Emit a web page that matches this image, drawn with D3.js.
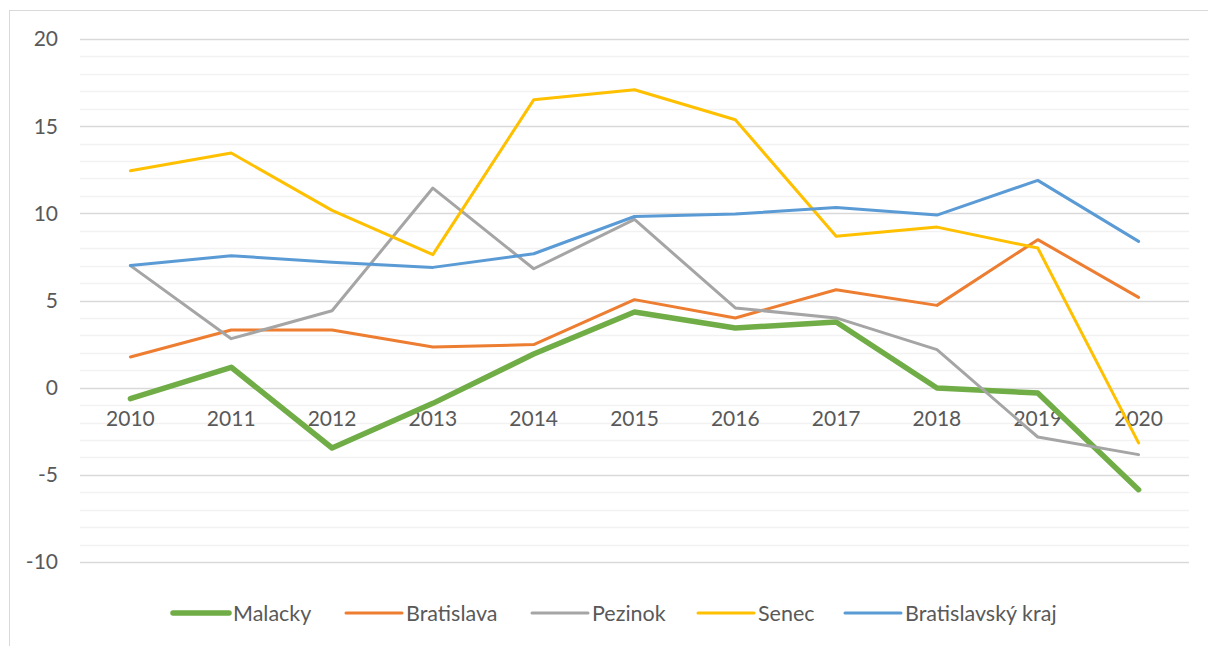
<!DOCTYPE html>
<html>
<head>
<meta charset="utf-8">
<script src="https://cdn.jsdelivr.net/npm/d3@7"></script>
<style>
  body { margin: 0; background: #fff; }
  svg { display: block; font-family: Lato, "Open Sans", sans-serif; }
  .tick-label { fill: #595959; font-size: 21px; }
  .legend-label { fill: #595959; font-size: 21.5px; }
</style>
</head>
<body>
<svg id="chart" width="1208" height="646"></svg>
<script>
// ----------

const YEARS = ["2010", "2011", "2012", "2013", "2014", "2015", "2016", "2017", "2018", "2019", "2020"];

const MALACKY = [-0.63, 1.17, -3.46, -0.9, 1.93, 4.34, 3.42, 3.77, -0.02, -0.31, -5.85];
const BRATISLAVA = [1.76, 3.31, 3.31, 2.33, 2.47, 5.05, 4.0, 5.62, 4.72, 8.49, 5.18];
const PEZINOK = [7.0, 2.81, 4.41, 11.45, 6.82, 9.65, 4.57, 4.0, 2.18, -2.83, -3.84];
const SENEC = [12.44, 13.46, 10.17, 7.63, 16.51, 17.09, 15.37, 8.68, 9.21, 8.01, -3.17];
const BRATISLAVSKY_KRAJ = [7.01, 7.57, 7.2, 6.9, 7.68, 9.82, 9.96, 10.34, 9.9, 11.89, 8.39];

const SERIES_NAMES = ["Malacky", "Bratislava", "Pezinok", "Senec", "Bratislavský kraj"];
const SERIES_VALUES = [MALACKY, BRATISLAVA, PEZINOK, SENEC, BRATISLAVSKY_KRAJ];
const SERIES_COLORS = ["#70AD47", "#ED7D31", "#A5A5A5", "#FFC000", "#5B9BD5"];
const SERIES_WIDTHS = [5.5, 3, 3, 3, 3];

const Y_TICKS = [20, 15, 10, 5, 0, -5, -10];

const LEGEND_X = [173, 346, 532, 698, 845];

// ----------

function drawChart() {
  let svg = d3.select("#chart"),
    left = 80,
    right = 1189,
    top = 39,
    bottom = 562;

  // chart frame
  svg.append("rect")
    .attr("x", 9.5)
    .attr("y", 10.5)
    .attr("width", 1300)
    .attr("height", 700)
    .attr("fill", "none")
    .attr("stroke", "#D9D9D9")
    .attr("stroke-width", 1);

  let x = d3.scaleBand().domain(YEARS).range([left, right]);
  let y = d3.scaleLinear().domain([-10, 20]).range([bottom, top]);

  // minor gridlines every 1, major every 5
  let minor = d3.range(-10, 21, 1).filter(function (v) { return v % 5 !== 0; });
  svg.append("g")
    .selectAll("line")
    .data(minor)
    .enter()
    .append("line")
    .attr("x1", left)
    .attr("x2", right)
    .attr("y1", function (d) { return Math.round(y(d)) + 0.5; })
    .attr("y2", function (d) { return Math.round(y(d)) + 0.5; })
    .attr("stroke", "#F2F2F2")
    .attr("stroke-width", 1.3);

  svg.append("g")
    .selectAll("line")
    .data(Y_TICKS)
    .enter()
    .append("line")
    .attr("x1", left)
    .attr("x2", right)
    .attr("y1", function (d) { return Math.round(y(d)) + 0.5; })
    .attr("y2", function (d) { return Math.round(y(d)) + 0.5; })
    .attr("stroke", "#D9D9D9")
    .attr("stroke-width", 1.3);

  // y labels
  svg.append("g")
    .selectAll("text")
    .data(Y_TICKS)
    .enter()
    .append("text")
    .attr("class", "tick-label")
    .attr("x", 58)
    .attr("y", function (d) { return y(d); })
    .attr("dy", "0.35em")
    .attr("text-anchor", "end")
    .text(function (d) { return d; });

  // x labels sit right under the zero line
  svg.append("g")
    .selectAll("text")
    .data(YEARS)
    .enter()
    .append("text")
    .attr("class", "tick-label")
    .attr("x", function (d) { return x(d) + x.bandwidth() / 2; })
    .attr("y", y(0) + 38)
    .attr("text-anchor", "middle")
    .text(function (d) { return d; });

  let line = d3.line()
    .x(function (d, i) { return x(YEARS[i]) + x.bandwidth() / 2; })
    .y(function (d) { return y(d); });

  svg.append("g")
    .selectAll("path")
    .data(SERIES_VALUES)
    .enter()
    .append("path")
    .attr("d", line)
    .attr("fill", "none")
    .attr("stroke", function (d, i) { return SERIES_COLORS[i]; })
    .attr("stroke-width", function (d, i) { return SERIES_WIDTHS[i]; })
    .attr("stroke-linejoin", "round")
    .attr("stroke-linecap", "round");

  // legend
  let legendY = 613;
  let legend = svg.append("g")
    .selectAll("g")
    .data(SERIES_NAMES)
    .enter()
    .append("g")
    .attr("transform", function (d, i) { return "translate(" + LEGEND_X[i] + "," + legendY + ")"; });

  legend.append("line")
    .attr("x1", 0)
    .attr("x2", 56)
    .attr("stroke", function (d, i) { return SERIES_COLORS[i]; })
    .attr("stroke-width", function (d, i) { return SERIES_WIDTHS[i]; })
    .attr("stroke-linecap", "round");

  legend.append("text")
    .attr("class", "legend-label")
    .attr("x", 60)
    .attr("dy", "0.35em")
    .text(function (d) { return d; });
}

drawChart();
</script>
</body>
</html>
